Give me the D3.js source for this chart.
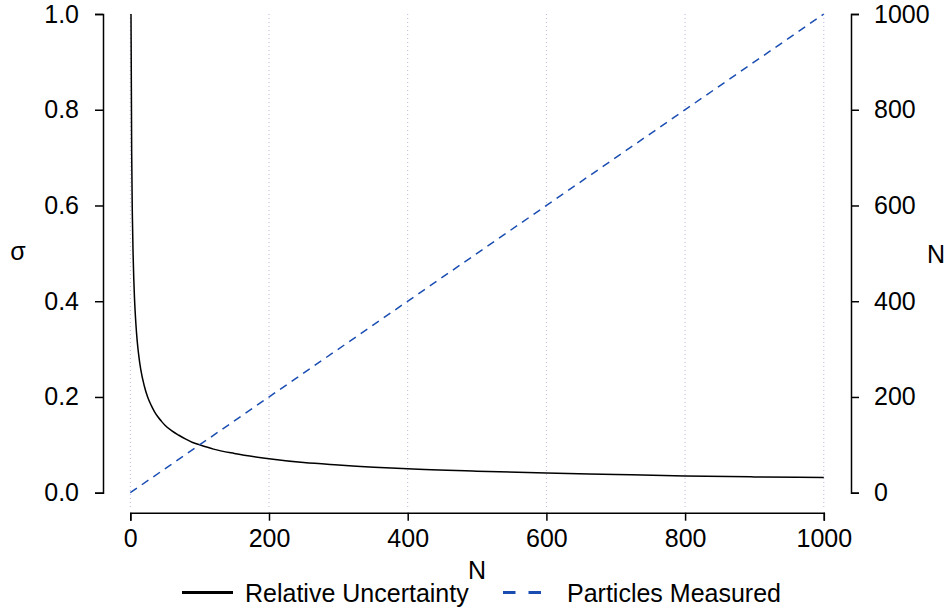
<!DOCTYPE html>
<html>
<head>
<meta charset="utf-8">
<script src="https://cdn.jsdelivr.net/npm/d3@7"></script>
<style>
  body { margin: 0; background: #fff; }
  svg text { font-family: "Liberation Sans", Arial, sans-serif; font-size: 25px; fill: #000; }
</style>
</head>
<body>
<svg width="951" height="612"></svg>
<script>
// values
const nValues = [1, 2, 3, 4, 5, 6, 8, 10, 12, 15, 20, 25, 30, 35, 40, 45, 50, 60, 70, 80, 90, 100, 120, 150, 200, 250, 300, 400, 500, 600, 700, 800, 900, 1000]
const sigmaValues = [1.0, 0.707, 0.577, 0.5, 0.447, 0.408, 0.354, 0.316, 0.289, 0.258, 0.224, 0.2, 0.183, 0.169, 0.158, 0.149, 0.141, 0.129, 0.120, 0.112, 0.105, 0.1, 0.091, 0.082, 0.071, 0.063, 0.058, 0.05, 0.045, 0.041, 0.038, 0.035, 0.033, 0.032]
const measuredN = [0, 1000]
const measuredValues = [0, 1000]
const xTicks = [0, 200, 400, 600, 800, 1000]
const yTicksLeft = [0, 0.2, 0.4, 0.6, 0.8, 1.0]
const yTicksRight = [0, 200, 400, 600, 800, 1000]

const svg = d3.select('svg')
const x = d3.scaleLinear().domain([0, 1000]).range([130.3, 823.8])
const yL = d3.scaleLinear().domain([0, 1]).range([492.7, 14])
const yR = d3.scaleLinear().domain([0, 1000]).range([492.7, 14])

// vertical dotted grid
svg.append('g').selectAll('line')
    .data(xTicks)
    .enter().append('line')
    .attr('x1', d => x(d)).attr('x2', d => x(d))
    .attr('y1', 14).attr('y2', 510)
    .attr('stroke', '#b8b8e0')
    .attr('stroke-width', 1)
    .attr('stroke-dasharray', '1,3')

// axes
svg.append('g')
    .attr('transform', 'translate(103, 0)')
    .call(d3.axisLeft(yL).tickValues(yTicksLeft).tickFormat(d3.format('.1f')).tickSize(8).tickPadding(16))
svg.append('g')
    .attr('transform', 'translate(851, 0)')
    .call(d3.axisRight(yR).tickValues(yTicksRight).tickFormat(d3.format('d')).tickSize(8).tickPadding(15))
svg.append('g')
    .attr('transform', 'translate(0, 512.7)')
    .call(d3.axisBottom(x).tickValues(xTicks).tickFormat(d3.format('d')).tickSize(8).tickPadding(9))

svg.selectAll('.domain').attr('stroke', '#000').attr('stroke-width', 1.5)
svg.selectAll('.tick line').attr('stroke', '#000').attr('stroke-width', 1.5)

// curves
const sigmaData = nValues.map((n, i) => ({n, v: sigmaValues[i]}))
svg.append('path')
    .datum(sigmaData)
    .attr('fill', 'none')
    .attr('stroke', '#000')
    .attr('stroke-width', 1.5)
    .attr('d', d3.line().x(d => x(d.n)).y(d => yL(d.v)).curve(d3.curveMonotoneX))

const measuredData = measuredN.map((n, i) => ({n, v: measuredValues[i]}))
svg.append('path')
    .datum(measuredData)
    .attr('fill', 'none')
    .attr('stroke', '#1a4db2')
    .attr('stroke-width', 1.5)
    .attr('stroke-dasharray', '8,6')
    .attr('d', d3.line().x(d => x(d.n)).y(d => yR(d.v)))

// titles
svg.append('text').attr('x', 477).attr('y', 579).attr('text-anchor', 'middle').text('N')
svg.append('text').attr('x', 18).attr('y', 260).attr('text-anchor', 'middle').text('σ')
svg.append('text').attr('x', 936).attr('y', 263).attr('text-anchor', 'middle').text('N')

// legend
const leg = svg.append('g')
leg.append('line').attr('x1', 182).attr('x2', 233).attr('y1', 592.5).attr('y2', 592.5)
    .attr('stroke', '#000').attr('stroke-width', 3)
leg.append('text').attr('x', 245).attr('y', 602).text('Relative Uncertainty')
leg.append('line').attr('x1', 503).attr('x2', 542).attr('y1', 592.5).attr('y2', 592.5)
    .attr('stroke', '#1a4db2').attr('stroke-width', 3).attr('stroke-dasharray', '12.5,13')
leg.append('text').attr('x', 567).attr('y', 602).text('Particles Measured')
</script>
</body>
</html>
